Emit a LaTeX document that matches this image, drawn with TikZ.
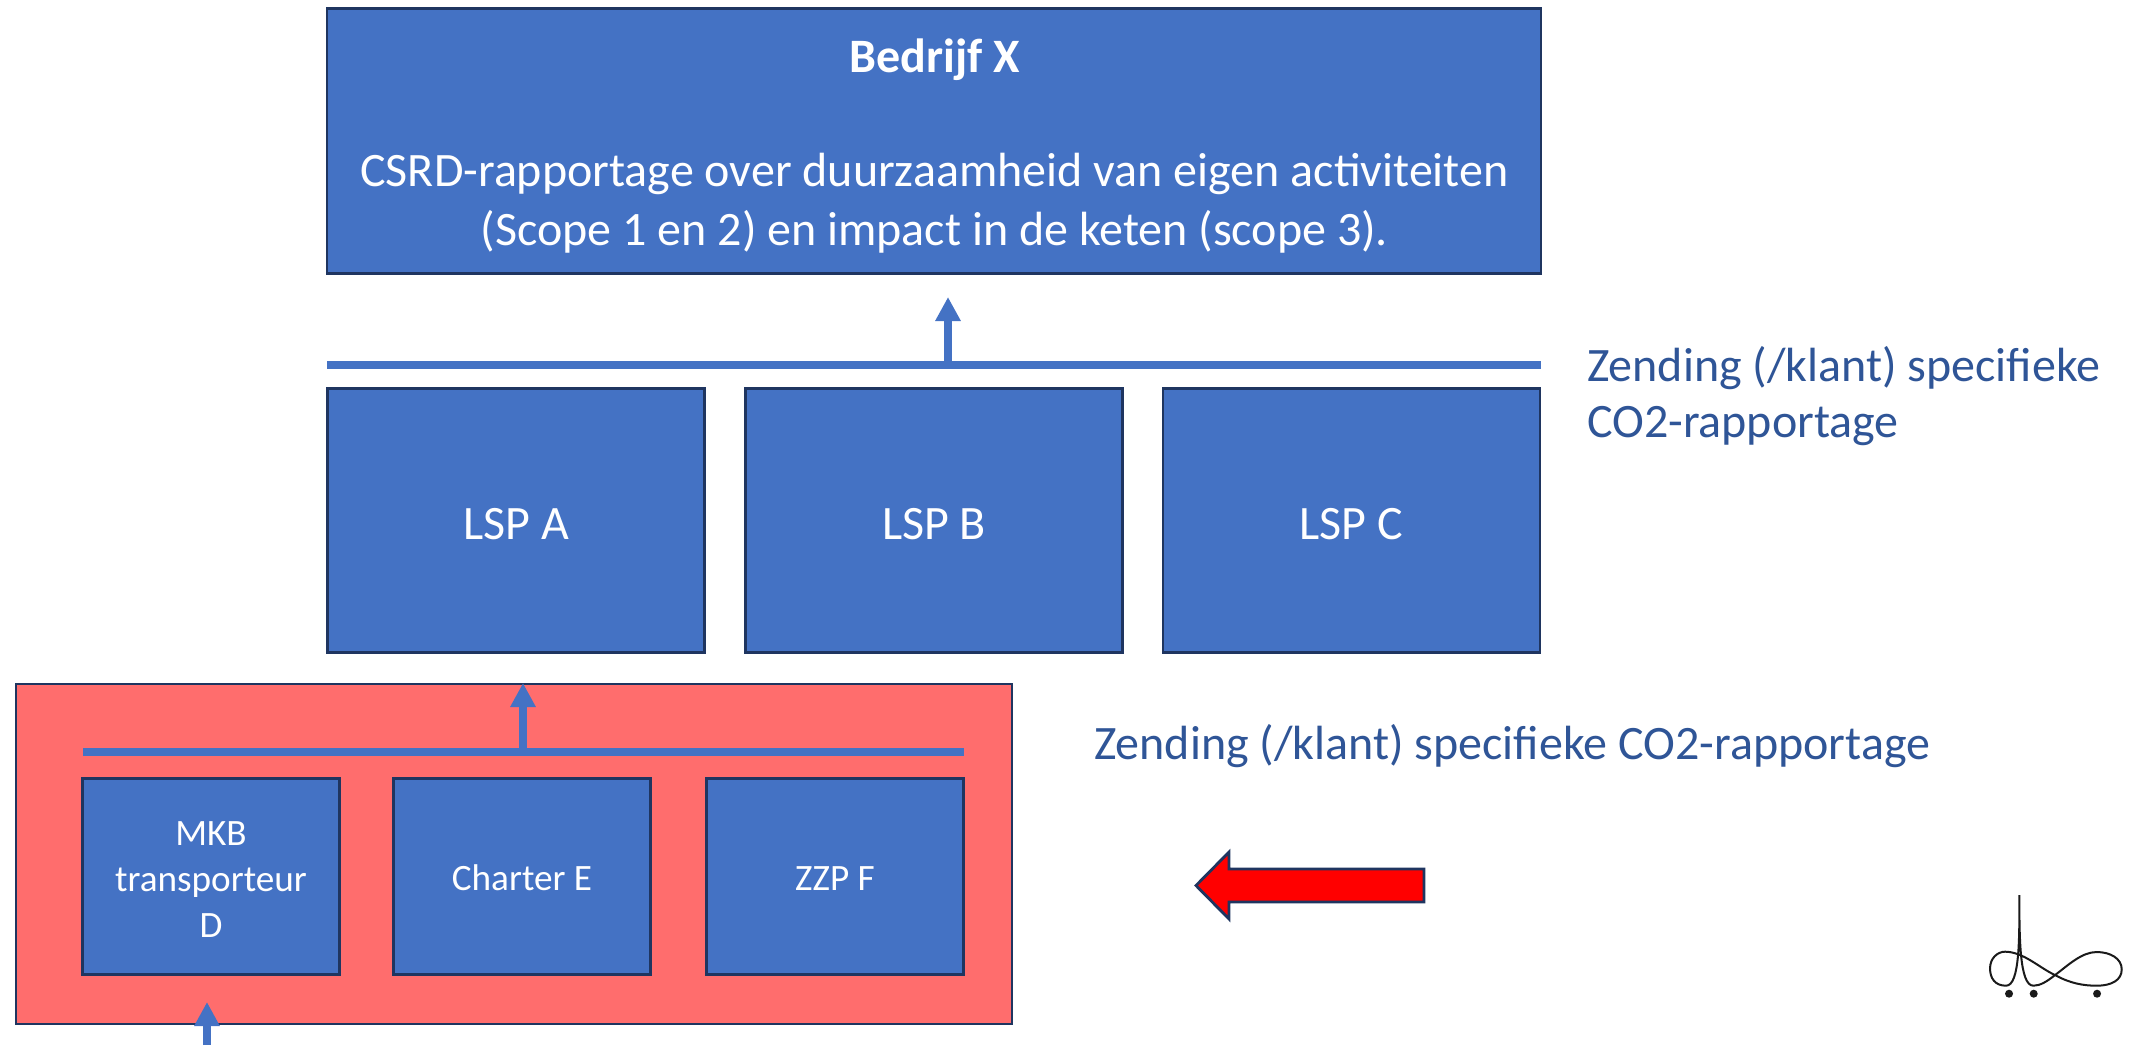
\documentclass[tikz,border=0pt]{standalone}
\usepackage{fontspec}
\setmainfont{Carlito}
\usetikzlibrary{arrows.meta}
\definecolor{boxblue}{HTML}{4472C4}
\definecolor{boxedge}{HTML}{1F3560}
\definecolor{labelblue}{HTML}{2F5597}
\definecolor{panelred}{HTML}{FF6D6D}
\definecolor{markblack}{HTML}{1A1A1A}
\tikzset{
  x=0.5pt,y=-0.5pt,
  bluebox/.style={draw=boxedge,fill=boxblue,line width=1.4pt,text=white,inner sep=0pt,outer sep=0pt,align=center},
  bigbox/.style={bluebox,minimum width=188.5pt,minimum height=132pt,font=\fontsize{24}{29.5}\selectfont},
  smallbox/.style={bluebox,minimum width=128.5pt,minimum height=98pt,font=\fontsize{18.6}{23}\selectfont},
  panel/.style={draw=boxedge,fill=panelred,line width=1pt,inner sep=0pt,outer sep=0pt},
  busline/.style={draw=boxblue,line width=4pt},
  uparrow/.style={draw=boxblue,line width=4pt,-{Triangle[length=12pt,width=12pt]}},
  sidelabel/.style={text=labelblue,inner sep=0pt,outer sep=0pt,align=left,font=\fontsize{24}{28}\selectfont},
  redarrow/.style={draw=boxedge,fill=red,line width=1.4pt,line join=miter},
  logoline/.style={draw=markblack,line width=1pt},
}
\begin{document}
\begin{tikzpicture}
\useasboundingbox (0,0) rectangle (2129,1045);
% top box
\node[bluebox,minimum width=607pt,minimum height=132.5pt] (top) at (934,141) {};
\node[text=white,inner sep=0pt,font=\fontsize{24}{29.5}\selectfont\bfseries] (toptitle) at (934.5,59.5) {Bedrijf X};
\node[text=white,inner sep=0pt,align=center,font=\fontsize{24}{29.5}\selectfont] (toptext) at (934.5,203.5) {CSRD-rapportage over duurzaamheid van eigen activiteiten\\(Scope 1 en 2) en impact in de keten (scope 3).};
% upper bus
\coordinate (busLa) at (327,365);
\coordinate (busLb) at (1541,365);
\coordinate (busLm) at (948,365);
\coordinate (tipL) at (948,297);
\draw[busline] (busLa) -- (busLb);
\draw[uparrow] (busLm) -- (tipL);
% LSP
\node[bigbox] (lspa) at (516,520.5) {\rule{0pt}{19pt}LSP A};
\node[bigbox] (lspb) at (934,520.5) {\rule{0pt}{19pt}LSP B};
\node[bigbox] (lspc) at (1351.5,520.5) {\rule{0pt}{19pt}LSP C};
\node[sidelabel,anchor=west] (zend1) at (1587,396) {Zending (/klant) specifieke\\CO2-rapportage};
% red panel
\node[panel,minimum width=498pt,minimum height=170pt] (panel) at (513.5,853.5) {};
\coordinate (busSa) at (83,751.5);
\coordinate (busSb) at (964,751.5);
\coordinate (busSm) at (523,751.5);
\coordinate (tipS) at (523,683);
\draw[busline] (busSa) -- (busSb);
\draw[uparrow] (busSm) -- (tipS);
\node[smallbox] (mkb) at (211,876.5) {\rule{0pt}{14.5pt}MKB\\transporteur\\D};
\node[smallbox] (charter) at (522,876.5) {\rule{0pt}{14pt}Charter E};
\node[smallbox] (zzp) at (835,876.5) {\rule{0pt}{14pt}ZZP F};
\coordinate (inbot) at (207,1045);
\coordinate (intip) at (207,1002);
\draw[uparrow] (inbot) -- (intip);
\node[sidelabel,anchor=west] (zend2) at (1094,746) {Zending (/klant) specifieke CO2-rapportage};
% red arrow
\draw[redarrow] (1424,869) -- (1229,869) -- (1229,852) -- (1196,885.5) -- (1229,919) -- (1229,902) -- (1424,902) -- cycle;
% logo
\begin{scope}[shift={(1900,870)},x=0.1667pt,y=-0.1667pt]
\draw[logoline] (358,75) .. controls (358,200) and (360,347) .. (318,347)
  .. controls (285,347) and (270,325) .. (270,295)
  .. controls (270,265) and (292,245) .. (315,245)
  .. controls (370,245) and (420,295) .. (465,315)
  .. controls (510,340) and (550,347) .. (590,347)
  .. controls (635,347) and (665,330) .. (665,298)
  .. controls (665,265) and (630,246) .. (590,246)
  .. controls (545,246) and (505,285) .. (465,315)
  .. controls (440,335) and (420,347) .. (400,347)
  .. controls (358,347) and (358,200) .. (358,75);
\fill[markblack] (327,371) circle (12);
\fill[markblack] (401,371) circle (12);
\fill[markblack] (591,371) circle (12);
\end{scope}
\end{tikzpicture}
\end{document}
